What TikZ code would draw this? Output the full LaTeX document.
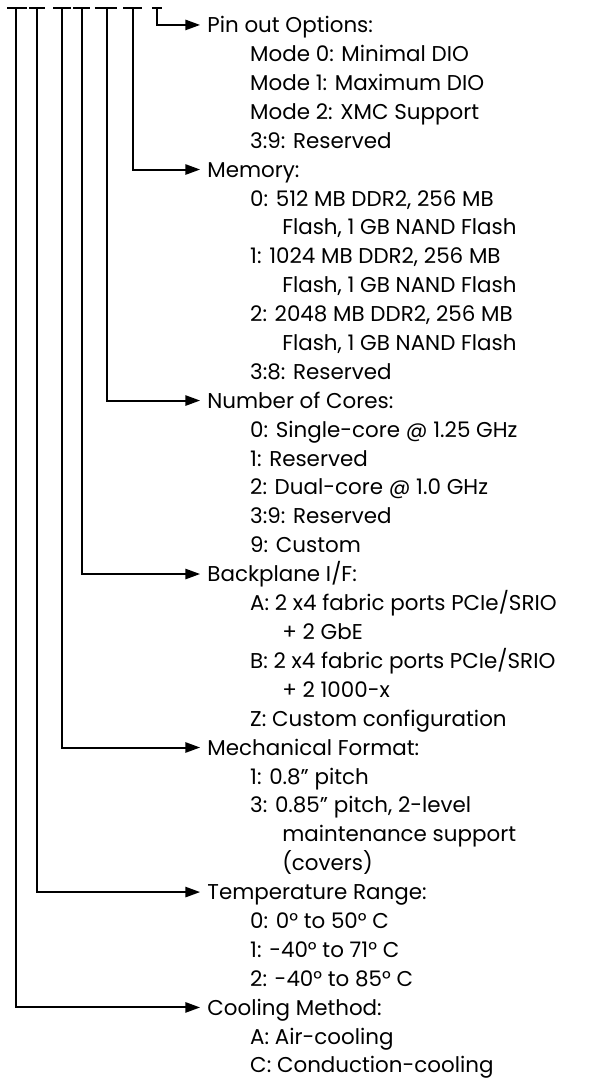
\documentclass[tikz,border=0pt]{standalone}
\usepackage{fontspec}
\setmainfont{Poppins}
\usetikzlibrary{arrows.meta}

\tikzset{
	head/.style={anchor=west, inner xsep=0.25cm, inner ysep=0pt, text height=0.54cm, text depth=0pt, font=\fontsize{21.5}{26}\selectfont},
	opt/.style={head},
	slot/.style={line width=2pt},
	feed/.style={line width=2pt, -{Triangle[length=0.52cm,width=0.36cm]}}
}

\begin{document}
\begin{tikzpicture}
\useasboundingbox (0,0) rectangle (21,-38.1);
%TOP SLOTS
	\draw[slot] (0.25,-0.28) -- (0.95,-0.28);
	\draw[slot] (1.02,-0.28) -- (1.59,-0.28);
	\draw[slot] (1.87,-0.28) -- (2.50,-0.28);
	\draw[slot] (2.58,-0.28) -- (3.18,-0.28);
	\draw[slot] (3.35,-0.28) -- (4.13,-0.28);
	\draw[slot] (4.34,-0.28) -- (5.01,-0.28);
	\draw[slot] (5.36,-0.28) -- (5.72,-0.28);
	\coordinate (d1) at (0.56,-0.28);
	\coordinate (d2) at (1.31,-0.28);
	\coordinate (d3) at (2.19,-0.28);
	\coordinate (d4) at (2.88,-0.28);
	\coordinate (d5) at (3.77,-0.28);
	\coordinate (d6) at (4.69,-0.28);
	\coordinate (d7) at (5.54,-0.28);
%pin out
	\node[head] (pinout) at (7.06,-0.88) {Pin out Options:};
	\node[opt] (pin0) at (8.57,-1.90) {Mode 0: Minimal DIO};
	\node[opt] (pin1) at (8.57,-2.92) {Mode 1: Maximum DIO};
	\node[opt] (pin2) at (8.57,-3.94) {Mode 2: XMC Support};
	\node[opt] (pin3) at (8.57,-4.96) {3:9: Reserved};
%memory
	\node[head] (memory) at (7.06,-5.98) {Memory:};
	\node[opt] (mem0) at (8.57,-7.00) {0: 512 MB DDR2, 256 MB};
	\node[opt] (mem0b) at (9.70,-8.02) {Flash, 1 GB NAND Flash};
	\node[opt] (mem1) at (8.57,-9.04) {1: 1024 MB DDR2, 256 MB};
	\node[opt] (mem1b) at (9.70,-10.06) {Flash, 1 GB NAND Flash};
	\node[opt] (mem2) at (8.57,-11.08) {2: 2048 MB DDR2, 256 MB};
	\node[opt] (mem2b) at (9.70,-12.09) {Flash, 1 GB NAND Flash};
	\node[opt] (mem3) at (8.57,-13.11) {3:8: Reserved};
%cores
	\node[head] (cores) at (7.06,-14.13) {Number of Cores:};
	\node[opt] (core0) at (8.57,-15.15) {0: Single-core @ 1.25 GHz};
	\node[opt] (core1) at (8.57,-16.17) {1: Reserved};
	\node[opt] (core2) at (8.57,-17.19) {2: Dual-core @ 1.0 GHz};
	\node[opt] (core3) at (8.57,-18.21) {3:9: Reserved};
	\node[opt] (core9) at (8.57,-19.23) {9: Custom};
%backplane
	\node[head] (backplane) at (7.06,-20.25) {Backplane I/F:};
	\node[opt] (bpA) at (8.57,-21.27) {A: 2 x4 fabric ports PCIe/SRIO};
	\node[opt] (bpAb) at (9.70,-22.29) {+ 2 GbE};
	\node[opt] (bpB) at (8.57,-23.31) {B: 2 x4 fabric ports PCIe/SRIO};
	\node[opt] (bpBb) at (9.70,-24.33) {+ 2 1000-x};
	\node[opt] (bpZ) at (8.57,-25.35) {Z: Custom configuration};
%mechanical
	\node[head] (mech) at (7.06,-26.37) {Mechanical Format:};
	\node[opt] (mech1) at (8.57,-27.39) {1: 0.8” pitch};
	\node[opt] (mech3) at (8.57,-28.41) {3: 0.85” pitch, 2-level};
	\node[opt] (mech3b) at (9.70,-29.43) {maintenance support};
	\node[opt] (mech3c) at (9.70,-30.45) {(covers)};
%temperature
	\node[head] (temp) at (7.06,-31.47) {Temperature Range:};
	\node[opt] (temp0) at (8.57,-32.48) {0: 0° to 50° C};
	\node[opt] (temp1) at (8.57,-33.50) {1: -40° to 71° C};
	\node[opt] (temp2) at (8.57,-34.52) {2: -40° to 85° C};
%cooling
	\node[head] (cool) at (7.06,-35.54) {Cooling Method:};
	\node[opt] (coolA) at (8.57,-36.56) {A: Air-cooling};
	\node[opt] (coolC) at (8.57,-37.58) {C: Conduction-cooling};
%LINKS
	\draw[feed] (d7) |- (pinout.west);
	\draw[feed] (d6) |- (memory.west);
	\draw[feed] (d5) |- (cores.west);
	\draw[feed] (d4) |- (backplane.west);
	\draw[feed] (d3) |- (mech.west);
	\draw[feed] (d2) |- (temp.west);
	\draw[feed] (d1) |- (cool.west);
\end{tikzpicture}
\end{document}
